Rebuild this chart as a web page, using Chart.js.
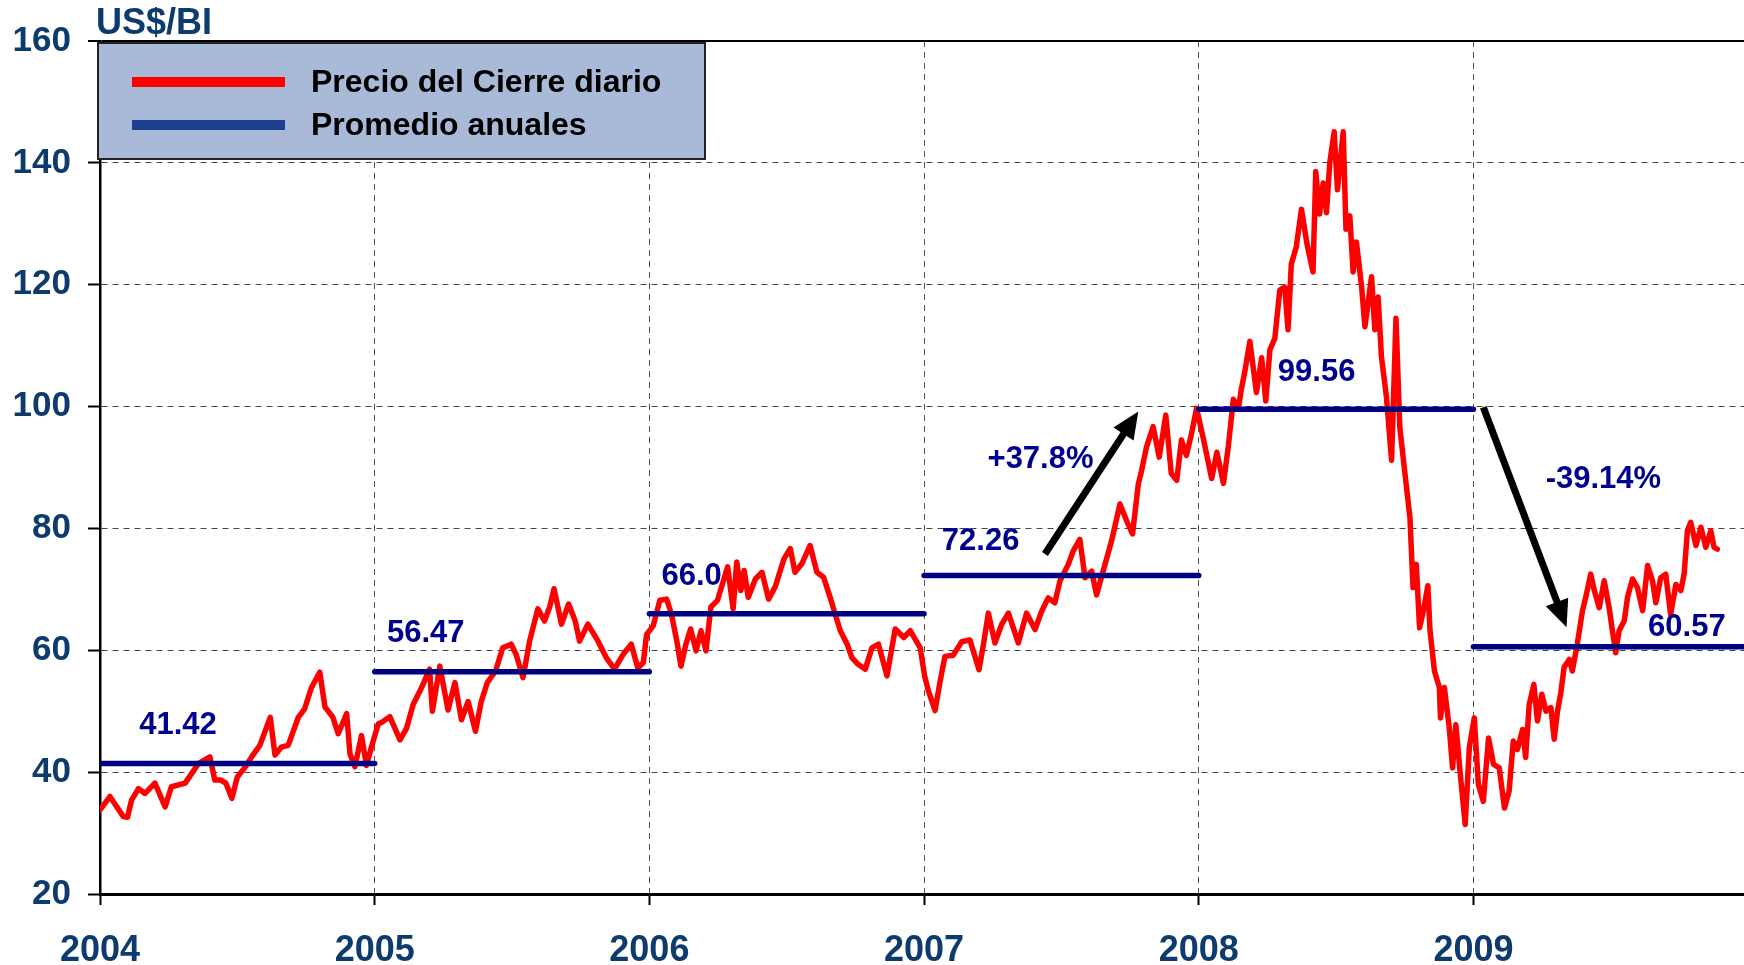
<!DOCTYPE html>
<html>
<head>
<meta charset="utf-8">
<script src="https://cdn.jsdelivr.net/npm/chart.js@4.4.0/dist/chart.umd.min.js"></script>
<style>
html,body{margin:0;padding:0;background:#fff;overflow:hidden}
#wrap{position:relative;width:1744px;height:965px}
</style>
</head>
<body>
<div id="wrap"><canvas id="c" width="1744" height="965"></canvas></div>
<script>
// ---- Daily close ----
const priceDates = [
2004.000,2004.036,2004.085,2004.100,2004.115,2004.140,2004.164,2004.200,2004.237,2004.260,
2004.310,2004.334,2004.358,2004.400,2004.418,2004.440,2004.458,2004.480,2004.500,2004.530,
2004.552,2004.582,2004.620,2004.637,2004.660,2004.685,2004.722,2004.745,2004.770,2004.800,
2004.819,2004.848,2004.867,2004.898,2004.910,2004.928,2004.952,2004.970,2004.988,
2005.013,2005.030,2005.055,2005.092,2005.116,2005.140,2005.170,2005.200,2005.210,2005.237,
2005.267,2005.292,2005.316,2005.340,2005.367,2005.388,2005.410,2005.440,2005.466,2005.497,
2005.515,2005.540,2005.564,2005.594,2005.618,2005.637,2005.653,2005.680,2005.706,2005.730,
2005.746,2005.776,2005.813,2005.843,2005.873,2005.904,2005.934,2005.958,2005.978,2005.990,
2006.014,2006.038,2006.063,2006.080,2006.100,2006.115,2006.133,2006.150,2006.170,2006.188,
2006.206,2006.224,2006.248,2006.285,2006.305,2006.318,2006.333,2006.345,2006.360,2006.386,
2006.410,2006.434,2006.458,2006.490,2006.513,2006.530,2006.555,2006.585,2006.610,2006.634,
2006.658,2006.676,2006.695,2006.720,2006.737,2006.760,2006.786,2006.810,2006.834,2006.865,
2006.895,2006.926,2006.950,2006.986,
2007.002,2007.016,2007.040,2007.058,2007.076,2007.106,2007.137,2007.167,2007.200,2007.216,
2007.234,2007.258,2007.282,2007.307,2007.343,2007.373,2007.404,2007.428,2007.452,2007.476,
2007.495,2007.525,2007.543,2007.567,2007.586,2007.610,2007.628,2007.652,2007.683,2007.713,
2007.737,2007.759,2007.780,2007.792,2007.810,2007.834,2007.856,2007.880,2007.900,2007.920,
2007.937,2007.955,2007.974,2007.992,
2008.017,2008.047,2008.066,2008.090,2008.108,2008.126,2008.144,2008.156,2008.168,2008.186,
2008.210,2008.229,2008.244,2008.259,2008.277,2008.295,2008.313,2008.325,2008.337,2008.355,
2008.374,2008.394,2008.416,2008.426,2008.440,2008.453,2008.465,2008.477,2008.493,2008.505,
2008.526,2008.536,2008.550,2008.562,2008.574,2008.593,2008.605,2008.629,2008.641,2008.653,
2008.665,2008.683,2008.702,2008.718,2008.732,2008.750,2008.769,2008.780,2008.792,2008.804,
2008.820,2008.834,2008.842,2008.858,2008.876,2008.880,2008.894,2008.912,2008.924,2008.936,
2008.950,2008.970,2008.985,
2009.003,2009.018,2009.036,2009.055,2009.073,2009.094,2009.113,2009.130,2009.145,2009.160,
2009.179,2009.190,2009.203,2009.220,2009.233,2009.249,2009.264,2009.282,2009.294,2009.306,
2009.318,2009.330,2009.349,2009.360,2009.378,2009.397,2009.409,2009.427,2009.440,2009.458,
2009.476,2009.494,2009.506,2009.518,2009.530,2009.549,2009.561,2009.579,2009.597,2009.616,
2009.634,2009.652,2009.664,2009.682,2009.700,2009.718,2009.737,2009.755,2009.767,2009.779,
2009.791,2009.810,2009.828,2009.846,2009.864,2009.876,2009.888
];
const priceValues = [
33.8,36.0,32.7,32.6,35.4,37.3,36.5,38.2,34.3,37.6,
38.2,39.8,41.4,42.5,38.7,38.7,38.2,35.7,39.2,40.9,
42.5,44.4,49.0,42.8,44.1,44.4,49.0,50.4,53.9,56.4,
50.7,49.0,46.3,49.6,43.0,40.9,46.0,41.1,44.1,
47.9,48.3,49.1,45.3,47.2,51.1,53.8,56.9,50.0,57.4,
50.2,54.7,48.6,51.6,46.7,51.6,54.7,56.6,60.4,61.0,
59.3,55.5,61.5,66.8,64.8,67.1,70.1,64.3,67.6,64.8,
61.5,64.3,61.5,58.8,56.9,59.3,61.0,57.1,58.0,62.6,
64.0,68.2,68.4,66.0,61.5,57.4,61.0,63.5,59.9,63.2,
59.9,67.1,68.2,73.7,66.8,74.5,69.8,73.1,68.7,71.7,
72.8,68.4,70.4,75.0,76.7,72.8,74.2,77.2,72.8,72.0,
68.7,66.0,63.2,61.0,58.8,57.7,56.9,60.4,61.0,55.8,
63.5,62.1,63.2,60.4,
55.8,53.3,50.1,54.8,59.0,59.2,61.4,61.7,56.8,60.9,
66.1,61.2,64.2,66.1,61.2,66.1,63.4,66.4,68.6,67.8,
71.4,74.1,76.3,78.2,71.9,73.0,69.1,73.0,78.0,84.0,
81.3,79.1,87.3,89.5,93.4,96.7,91.7,98.6,89.0,87.9,
94.5,92.0,95.6,99.7,
94.7,88.2,92.5,87.4,93.6,101.2,99.6,103.1,105.8,110.7,
102.3,108.0,100.9,109.3,111.2,119.1,119.6,112.6,123.4,126.2,
132.4,126.7,122.1,138.6,131.6,136.7,131.8,140.0,145.1,135.6,
145.1,129.1,131.3,122.1,127.0,119.6,113.1,121.3,112.6,118.0,
108.2,101.7,91.2,114.5,96.6,89.3,81.7,70.3,74.1,63.7,
67.0,70.6,63.2,56.6,53.9,48.9,53.9,47.3,40.7,47.8,
40.7,31.4,44.0,
48.9,38.0,35.2,45.6,41.3,40.7,34.1,36.9,45.1,43.7,
47.0,42.4,51.1,54.4,48.4,52.8,50.0,50.6,45.4,50.0,
53.0,57.2,58.5,56.6,61.0,66.5,68.7,72.5,69.8,67.0,
71.4,67.0,63.2,59.6,63.2,64.8,68.7,71.7,70.3,66.5,
73.9,71.4,67.8,71.9,72.5,65.9,70.8,69.8,72.5,79.6,
81.0,77.2,80.2,76.9,79.6,76.9,76.6
];

// ---- Annual averages ----
const avgStartYears = [2004, 2005, 2006, 2007, 2008, 2009];
const avgEndYears   = [2005, 2006, 2007, 2008, 2009, 2010];
const avgValues     = [41.42, 56.47, 66.0, 72.26, 99.56, 60.57];
const avgLabels     = ['41.42', '56.47', '66.0', '72.26', '99.56', '60.57'];
const avgLabelX     = [2004.284, 2005.186, 2006.154, 2007.206, 2008.429, 2009.777];
const avgLabelY     = [47.7, 62.8, 72.06, 77.8, 105.6, 63.75];

// ---- Change annotations ----
const changeLabels = ['+37.8%', '-39.14%'];
const changeLabelX = [2007.424, 2009.473];
const changeLabelY = [91.3, 88.0];
const arrowFromX = [2007.440, 2009.036];
const arrowFromY = [75.8, 99.9];
const arrowToX   = [2007.780, 2009.339];
const arrowToY   = [99.2, 63.8];

// ---- Axes / legend text ----
const xTickYears = [2004, 2005, 2006, 2007, 2008, 2009];
const yTicks = [20, 40, 60, 80, 100, 120, 140, 160];
const unitLabel = 'US$/BI';
const legendLabels = ['Precio del Cierre diario', 'Promedio anuales'];

const FONT = '"Liberation Sans", Arial, Helvetica, sans-serif';
const TICK_COLOR = '#0d3b6e';

const priceData = priceDates.map((d, i) => ({x: d, y: priceValues[i]}));

const datasets = [{
  label: legendLabels[0],
  data: priceData,
  borderColor: '#ff0000',
  borderWidth: 5.5,
  pointRadius: 0,
  tension: 0,
  borderJoinStyle: 'round',
  borderCapStyle: 'round',
  order: 2
}];
avgValues.forEach((v, i) => {
  datasets.push({
    label: legendLabels[1],
    data: [{x: avgStartYears[i], y: v}, {x: avgEndYears[i], y: v}],
    borderColor: '#000080',
    borderWidth: 5.5,
    pointRadius: 0,
    borderCapStyle: 'round',
    order: 1
  });
});

const annotPlugin = {
  id: 'annot',
  afterDatasetsDraw(chart) {
    const {ctx, scales: {x, y}} = chart;
    ctx.save();
    // average labels
    ctx.fillStyle = '#000090';
    ctx.font = 'bold 31px ' + FONT;
    ctx.textAlign = 'center';
    ctx.textBaseline = 'middle';
    avgLabels.forEach((t, i) => {
      ctx.fillText(t, x.getPixelForValue(avgLabelX[i]), y.getPixelForValue(avgLabelY[i]));
    });
    changeLabels.forEach((t, i) => {
      ctx.fillText(t, x.getPixelForValue(changeLabelX[i]), y.getPixelForValue(changeLabelY[i]));
    });
    // arrows
    ctx.strokeStyle = '#000';
    ctx.fillStyle = '#000';
    arrowFromX.forEach((fx, i) => {
      const x1 = x.getPixelForValue(fx), y1 = y.getPixelForValue(arrowFromY[i]);
      const x2 = x.getPixelForValue(arrowToX[i]), y2 = y.getPixelForValue(arrowToY[i]);
      const ang = Math.atan2(y2 - y1, x2 - x1);
      const headLen = 27, headW = 12;
      const bx = x2 - headLen * Math.cos(ang), by = y2 - headLen * Math.sin(ang);
      ctx.lineWidth = 7;
      ctx.lineCap = 'butt';
      ctx.beginPath();
      ctx.moveTo(x1, y1);
      ctx.lineTo(bx + 2 * Math.cos(ang), by + 2 * Math.sin(ang));
      ctx.stroke();
      ctx.beginPath();
      ctx.moveTo(x2, y2);
      ctx.lineTo(bx + headW * Math.sin(ang), by - headW * Math.cos(ang));
      ctx.lineTo(bx - headW * Math.sin(ang), by + headW * Math.cos(ang));
      ctx.closePath();
      ctx.fill();
    });
    // legend box
    const lx = 98, ly = 43, lw = 607, lh = 116;
    ctx.fillStyle = '#a9bad8';
    ctx.fillRect(lx, ly, lw, lh);
    ctx.lineWidth = 2;
    ctx.strokeStyle = '#222';
    ctx.strokeRect(lx, ly, lw, lh);
    const rows = [{c: '#ff0000', y: 82}, {c: '#1f3f8f', y: 125}];
    rows.forEach((r, i) => {
      ctx.strokeStyle = r.c;
      ctx.lineWidth = 10;
      ctx.lineCap = 'butt';
      ctx.beginPath();
      ctx.moveTo(132, r.y);
      ctx.lineTo(285, r.y);
      ctx.stroke();
      ctx.fillStyle = '#000';
      ctx.font = 'bold 32px ' + FONT;
      ctx.textAlign = 'left';
      ctx.textBaseline = 'middle';
      ctx.fillText(legendLabels[i], 311, r.y + 1);
    });
    // unit label
    ctx.fillStyle = TICK_COLOR;
    ctx.font = 'bold 36px ' + FONT;
    ctx.textAlign = 'left';
    ctx.textBaseline = 'middle';
    ctx.fillText(unitLabel, 96, 24);
    ctx.restore();
  }
};

new Chart(document.getElementById('c'), {
  type: 'line',
  data: {datasets},
  plugins: [annotPlugin],
  options: {
    responsive: false,
    animation: false,
    devicePixelRatio: 1,
    layout: {padding: {top: 41, left: 0, right: 0, bottom: 0}},
    plugins: {legend: {display: false}, tooltip: {enabled: false}, title: {display: false}},
    scales: {
      x: {
        type: 'linear',
        min: 2004,
        max: 2009.985,
        afterBuildTicks: s => { s.ticks = xTickYears.map(v => ({value: v})); },
        afterFit: s => { s.height = 71; },
        ticks: {
          autoSkip: false,
          maxRotation: 0,
          padding: 24,
          color: TICK_COLOR,
          font: {family: FONT, size: 36, weight: 'bold'},
          callback: v => String(v)
        },
        grid: {
          color: '#555',
          lineWidth: 1,
          tickLength: 11,
          tickColor: '#000',
          tickWidth: 2
        },
        border: {display: true, color: '#000', width: 3, dash: [6, 5]}
      },
      y: {
        type: 'linear',
        min: 20,
        max: 160,
        afterBuildTicks: s => { s.ticks = yTicks.map(v => ({value: v})); },
        afterFit: s => { s.width = 100; },
        ticks: {
          padding: 17,
          color: TICK_COLOR,
          font: {family: FONT, size: 35, weight: 'bold'},
          callback: v => String(v)
        },
        grid: {
          color: c => (c.tick && c.tick.value === 160) ? '#000' : '#444',
          lineWidth: c => (c.tick && c.tick.value === 160) ? 2 : 1,
          tickLength: 12,
          tickColor: '#000',
          tickWidth: 2
        },
        border: {display: true, color: '#000', width: 2.5,
          dash: c => (c.tick && c.tick.value === 160) ? [] : [6, 5]}
      }
    }
  }
});
</script>
</body>
</html>
